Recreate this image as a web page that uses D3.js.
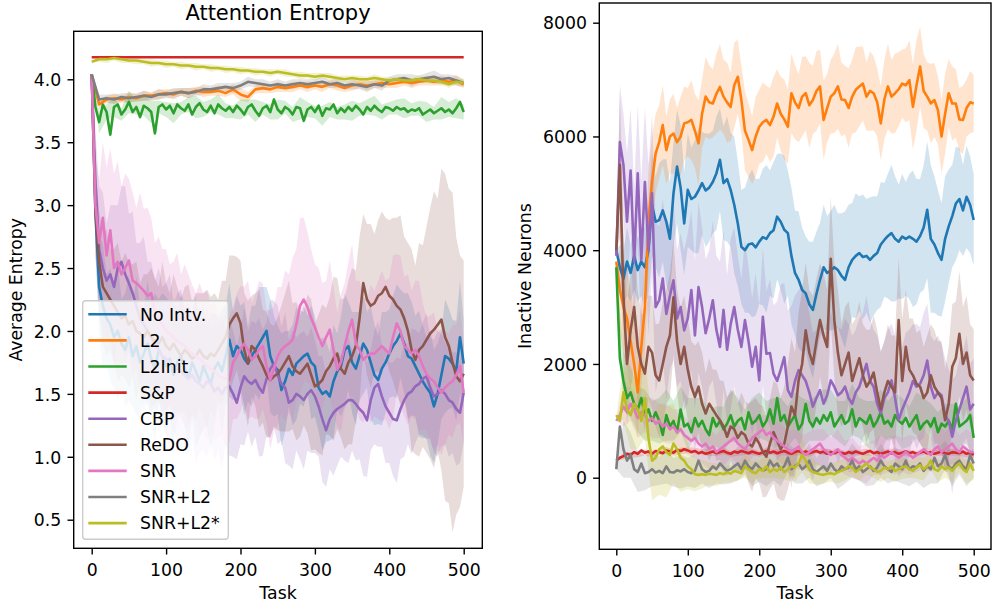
<!DOCTYPE html>
<html>
<head>
<meta charset="utf-8">
<script src="https://cdn.jsdelivr.net/npm/d3@7"></script>
<style>
body { margin: 0; background: #fff; }
text { font-family: "DejaVu Sans", sans-serif; fill: #000; }
</style>
</head>
<body>
<div id="viz"></div>
<script>

// method names and their colours (matplotlib tab10)
var methods = ['No Intv.', 'L2', 'L2Init', 'S&P', 'CBP', 'ReDO', 'SNR', 'SNR+L2', 'SNR+L2*'];
var colors = ['#1f77b4', '#ff7f0e', '#2ca02c', '#d62728', '#9467bd', '#8c564b', '#e377c2', '#7f7f7f', '#bcbd22'];

// x ticks (task number) shared by both panels
var taskTicks = [0, 100, 200, 300, 400, 500];

// ---- left panel: average attention entropy ----
// every series spans tasks 0..500, spacing = 500 / (length - 1)
var entTicks = [0.5, 1.0, 1.5, 2.0, 2.5, 3.0, 3.5, 4.0];

var entNoIntv = [4.04,2.95,2.35,2.20,2.10,2.05,1.95,2.00,1.90,1.85,
  1.95,1.80,1.88,1.75,1.82,1.90,1.78,1.70,1.85,1.80,
  1.72,1.78,1.65,1.75,1.80,1.70,1.62,1.75,1.68,1.60,
  1.72,1.65,1.58,1.70,1.75,1.68,1.80,1.93,1.80,1.88,
  1.85,1.78,1.74,1.80,1.85,1.90,1.95,2.00,1.80,1.72,
  1.69,1.53,1.60,1.70,1.65,1.74,1.77,1.80,1.82,1.75,
  1.72,1.55,1.50,1.52,1.48,1.60,1.68,1.72,1.85,1.88,
  1.75,1.70,1.80,1.90,1.85,1.75,1.65,1.61,1.70,1.75,
  1.82,1.88,1.92,1.98,1.90,1.80,1.78,1.72,1.66,1.60,
  1.55,1.51,1.40,1.50,1.65,1.80,1.78,1.74,1.68,1.95,
  1.74];
var entL2 = [4.04,3.80,3.84,3.85,3.84,3.86,3.85,3.87,3.87,3.88,
  3.89,3.88,3.90,3.89,3.91,3.90,3.90,3.91,3.89,3.92,
  3.88,3.86,3.92,3.93,3.92,3.94,3.93,3.94,3.95,3.94,
  3.95,3.94,3.96,3.95,3.93,3.95,3.96,3.95,3.96,3.97,
  3.96,3.97,3.98,3.97,3.98,3.99,3.98,3.99,3.98,3.99,
  3.96];
var entL2Init = [4.04,3.78,3.66,3.80,3.74,3.56,3.78,3.80,3.72,3.76,
  3.82,3.74,3.78,3.70,3.79,3.77,3.74,3.57,3.78,3.80,
  3.76,3.79,3.73,3.80,3.77,3.75,3.80,3.72,3.78,3.81,
  3.76,3.74,3.79,3.73,3.80,3.77,3.75,3.78,3.74,3.79,
  3.76,3.72,3.78,3.80,3.75,3.71,3.77,3.79,3.74,3.84,
  3.76,3.73,3.78,3.76,3.72,3.78,3.77,3.67,3.76,3.78,
  3.74,3.79,3.71,3.77,3.76,3.80,3.73,3.77,3.74,3.78,
  3.75,3.79,3.76,3.72,3.78,3.75,3.79,3.76,3.74,3.78,
  3.77,3.75,3.78,3.76,3.77,3.74,3.76,3.75,3.77,3.72,
  3.74,3.76,3.73,3.75,3.77,3.74,3.76,3.73,3.77,3.82,
  3.74];
var entSP = [4.175,4.175,4.175,4.175,4.175,4.175,4.175,4.175,4.175,4.175,4.175];
var entCBP = [4.04,3.20,2.65,2.50,2.40,2.45,2.35,2.50,2.55,2.45,
  2.38,2.30,2.20,2.10,2.05,2.00,1.95,1.90,1.85,1.80,
  1.78,1.75,1.72,1.70,1.68,1.65,1.62,1.65,1.60,1.58,
  1.55,1.60,1.58,1.52,1.55,1.50,1.55,1.56,1.50,1.43,
  1.55,1.64,1.60,1.58,1.61,1.55,1.51,1.62,1.70,1.74,
  1.65,1.58,1.55,1.43,1.45,1.50,1.48,1.45,1.50,1.53,
  1.48,1.40,1.30,1.21,1.30,1.35,1.38,1.40,1.42,1.45,
  1.45,1.42,1.38,1.35,1.29,1.45,1.55,1.58,1.48,1.40,
  1.35,1.30,1.29,1.38,1.45,1.50,1.52,1.56,1.58,1.62,
  1.64,1.55,1.48,1.50,1.53,1.50,1.45,1.43,1.38,1.35,
  1.51];
var entReDO = [4.04,2.95,2.55,2.35,2.30,2.25,2.20,2.15,2.10,2.12,
  2.05,2.08,2.00,1.98,1.95,2.00,1.95,1.92,1.90,1.95,
  1.88,1.85,1.90,1.85,1.80,1.85,1.82,1.78,1.80,1.85,
  1.80,1.78,1.82,1.80,1.85,1.90,1.95,2.05,2.10,2.14,
  2.06,1.85,1.74,1.88,1.85,1.78,1.72,1.65,1.61,1.64,
  1.66,1.70,1.75,1.80,1.72,1.68,1.66,1.70,1.74,1.65,
  1.56,1.58,1.61,1.68,1.72,1.78,1.82,1.70,1.66,1.75,
  1.80,1.88,2.10,2.38,2.25,2.20,2.22,2.28,2.30,2.35,
  2.28,2.25,2.20,2.17,2.10,2.00,1.85,1.77,1.85,1.88,
  1.93,1.98,2.01,2.05,2.09,1.95,1.88,1.75,1.64,1.60,
  1.66];
var entSNR = [4.04,3.00,2.70,2.90,2.60,2.80,2.50,2.55,2.45,2.50,
  2.56,2.40,2.38,2.35,2.32,2.28,2.30,2.15,2.10,2.05,
  2.00,1.98,1.95,1.92,1.90,1.88,1.85,1.82,1.80,1.78,
  1.75,1.72,1.70,1.68,1.65,1.63,1.62,1.61,1.75,1.80,
  1.86,1.90,1.85,1.77,1.80,1.85,1.88,1.72,1.61,1.70,
  1.80,1.85,1.88,1.90,1.93,2.05,2.20,2.25,2.19,2.10,
  2.03,1.95,1.88,1.95,2.01,1.85,1.69,1.75,1.88,2.00,
  2.09,1.90,1.85,1.77,1.80,1.82,1.82,1.85,1.88,1.85,
  1.82,1.95,2.06,2.00,1.88,1.85,1.82,1.85,1.80,1.72,
  1.66,1.62,1.60,1.55,1.51,1.55,1.58,1.60,1.65,1.72,
  1.51];
var entSNRL2 = [4.04,3.84,3.85,3.84,3.86,3.85,3.86,3.87,3.86,3.88,
  3.88,3.89,3.90,3.89,3.90,3.92,3.92,3.93,3.94,3.93,
  3.95,3.98,3.97,3.96,3.95,3.96,3.95,3.96,3.97,3.96,
  3.97,3.98,3.96,3.97,3.95,3.96,3.95,3.94,3.96,3.95,
  3.99,4.00,4.01,3.99,4.00,4.01,4.02,4.00,4.01,3.99,
  3.97];
var entSNRL2s = [4.14,4.16,4.16,4.17,4.16,4.15,4.15,4.14,4.13,4.13,
  4.12,4.12,4.11,4.11,4.10,4.10,4.09,4.09,4.08,4.08,
  4.07,4.07,4.06,4.06,4.05,4.06,4.05,4.04,4.03,4.03,
  4.02,4.03,4.02,4.01,4.00,4.01,4.00,4.00,4.01,4.00,
  3.99,4.00,3.99,3.99,4.00,3.99,3.99,3.98,3.96,3.98,
  3.97];

// std half-widths of the shaded bands (spacing again from length)
var entBandNoIntv = [0,0.30,0.40,0.50,0.35,0.45,0.40,0.55,0.35,0.45,
  0.50,0.40,0.55,0.45,0.35,0.50,0.45,0.60,0.40,0.50,
  0.55,0.45,0.60,0.40,0.50,0.45,0.55,0.40,0.60,0.45,
  0.50,0.40,0.55,0.45,0.35,0.50,0.40,0.45,0.35,0.40,
  0.35,0.45,0.30,0.40,0.35,0.45,0.40,0.35,0.45,0.40,
  0.35,0.45,0.40,0.30,0.40,0.45,0.35,0.40,0.30,0.45,
  0.40,0.35,0.45,0.40,0.35,0.45,0.30,0.40,0.45,0.35,
  0.40,0.45,0.35,0.40,0.30,0.45,0.40,0.35,0.45,0.40,
  0.35,0.40,0.45,0.35,0.40,0.50,0.45,0.40,0.50,0.45,
  0.40,0.50,0.45,0.40,0.35,0.45,0.40,0.35,0.40,0.45,
  0.35];
var entBandL2 = [0,0.04,0.03,0.04,0.03,0.04,0.03,0.04,0.03,0.04,
  0.03,0.04,0.03,0.04,0.03,0.04,0.03,0.04,0.03,0.04,
  0.05,0.04,0.03,0.04,0.03,0.04,0.03,0.04,0.03,0.04,
  0.03,0.04,0.03,0.04,0.03,0.04,0.03,0.04,0.03,0.04,
  0.03,0.04,0.03,0.04,0.03,0.04,0.03,0.04,0.03,0.04,
  0.03];
var entBandL2Init = [0,0.09,0.06,0.08,0.05,0.09,0.06,0.08,0.09,0.05,
  0.06,0.08,0.05,0.06,0.09,0.06,0.05,0.08,0.06,0.05,
  0.08,0.06,0.09,0.05,0.06,0.08,0.05,0.06,0.09,0.06,
  0.05,0.08,0.06,0.05,0.06,0.08,0.05,0.06,0.08,0.06,
  0.05,0.06,0.08,0.05,0.06,0.08,0.05,0.09,0.06,0.08,
  0.06];
var entBandSP = [0,0,0,0,0,0,0,0,0,0,0];
var entBandCBP = [0,0.40,0.50,0.60,0.45,0.55,0.65,0.50,0.60,0.70,
  0.55,0.65,0.50,0.60,0.70,0.55,0.60,0.50,0.65,0.55,
  0.60,0.70,0.50,0.60,0.65,0.55,0.60,0.50,0.65,0.55,
  0.50,0.60,0.45,0.55,0.50,0.60,0.45,0.55,0.50,0.45,
  0.45,0.55,0.40,0.50,0.45,0.55,0.50,0.45,0.55,0.50,
  0.55,0.45,0.60,0.50,0.55,0.45,0.50,0.55,0.45,0.50,
  0.45,0.40,0.50,0.45,0.40,0.50,0.45,0.40,0.45,0.50,
  0.40,0.45,0.40,0.50,0.45,0.40,0.45,0.50,0.40,0.45,
  0.40,0.45,0.50,0.40,0.45,0.40,0.50,0.45,0.40,0.45,
  0.50,0.40,0.45,0.50,0.45,0.40,0.45,0.40,0.45,0.40,
  0.40];
var entBandReDO = [0,0.35,0.40,0.45,0.50,0.40,0.45,0.55,0.45,0.50,
  0.50,0.45,0.55,0.40,0.50,0.45,0.55,0.50,0.45,0.60,
  0.50,0.45,0.55,0.50,0.45,0.50,0.55,0.45,0.50,0.45,
  0.50,0.55,0.45,0.50,0.40,0.50,0.45,0.55,0.50,0.45,
  0.50,0.45,0.50,0.40,0.45,0.55,0.45,0.50,0.45,0.40,
  0.45,0.50,0.55,0.60,0.50,0.55,0.50,0.45,0.55,0.60,
  0.50,0.55,0.60,0.50,0.55,0.65,0.60,0.55,0.60,0.65,
  0.70,0.60,0.65,0.55,0.60,0.65,0.55,0.60,0.65,0.55,
  0.60,0.65,0.70,0.75,0.65,0.70,0.80,0.75,0.85,0.80,
  0.90,1.00,1.10,1.00,1.20,1.30,1.25,1.35,1.10,1.00,
  0.90];
var entBandSNR = [0,0.40,0.50,0.60,0.70,0.65,0.75,0.80,0.70,0.75,
  0.65,0.70,0.60,0.75,0.65,0.70,0.60,0.55,0.65,0.60,
  0.65,0.55,0.60,0.70,0.55,0.65,0.60,0.55,0.50,0.60,
  0.55,0.60,0.50,0.55,0.50,0.45,0.55,0.50,0.45,0.50,
  0.50,0.45,0.55,0.45,0.50,0.55,0.50,0.45,0.55,0.50,
  0.55,0.50,0.60,0.55,0.65,0.60,0.70,0.65,0.60,0.55,
  0.50,0.55,0.50,0.45,0.55,0.50,0.45,0.55,0.50,0.55,
  0.60,0.50,0.55,0.50,0.45,0.55,0.50,0.55,0.60,0.55,
  0.60,0.65,0.55,0.60,0.55,0.60,0.50,0.55,0.60,0.50,
  0.45,0.50,0.55,0.45,0.50,0.45,0.40,0.45,0.40,0.45,
  0.40];
var entBandSNRL2 = [0,0.04,0.03,0.04,0.03,0.04,0.03,0.04,0.03,0.04,
  0.03,0.04,0.03,0.04,0.03,0.04,0.03,0.04,0.03,0.04,
  0.03,0.04,0.03,0.04,0.03,0.04,0.03,0.04,0.03,0.04,
  0.03,0.04,0.03,0.04,0.03,0.04,0.03,0.04,0.03,0.04,
  0.03,0.04,0.03,0.05,0.03,0.04,0.05,0.04,0.03,0.04,
  0.03];
var entBandSNRL2s = [0,0.02,0.03,0.02,0.03,0.02,0.03,0.02,0.03,0.02,
  0.03,0.02,0.03,0.02,0.03,0.02,0.03,0.02,0.03,0.02,
  0.03,0.02,0.03,0.02,0.03,0.02,0.03,0.02,0.03,0.02,
  0.03,0.02,0.03,0.02,0.03,0.02,0.03,0.02,0.03,0.02,
  0.03,0.02,0.03,0.02,0.03,0.02,0.03,0.02,0.03,0.02,
  0.03];

// ---- right panel: inactive neurons ----
var inaTicks = [0, 2000, 4000, 6000, 8000];

var inaNoIntv = [4000,3700,3500,3800,3600,3900,3650,3800,3700,4000,
  4800,4500,4530,4700,4500,4200,5000,5470,5100,4470,
  5060,4900,4940,5050,5180,5050,5100,5200,5350,5590,
  5180,5250,5060,4800,4470,4060,4000,4100,4120,4050,
  4150,4230,4200,4300,4350,4590,4500,4360,4300,3900,
  3600,3480,3300,3240,3050,2950,3230,3480,3700,3600,
  3640,3700,3650,3550,3480,3700,3830,3900,3950,3880,
  3900,3830,3900,3950,4100,4180,4250,4300,4200,4150,
  4240,4200,4240,4200,4150,4250,4400,4710,4200,4100,
  3950,3830,4200,4420,4600,4820,4900,4700,4940,4800,
  4530];
var inaL2 = [3800,3300,3000,2800,2400,2000,1500,2300,3000,4500,
  5200,5700,5900,6200,5760,6000,6050,5900,6000,6230,
  6250,6290,6100,5880,6400,6700,6600,6580,6750,6870,
  6700,6600,6520,6900,7050,6640,6100,5940,5760,6000,
  6170,6250,6290,6200,6350,6580,6400,6300,6170,6760,
  6600,6500,6700,6760,6550,6640,6800,6880,6290,6500,
  6700,6760,6880,6650,6640,6500,6700,6820,6880,6930,
  6700,6800,6760,6600,6230,6650,6880,6700,6760,6830,
  6930,6900,6990,6520,6900,7230,6800,6700,6580,6640,
  6460,6000,6400,6760,6580,6580,6300,6290,6500,6600,
  6580];
var inaL2Init = [3700,2100,1700,1400,1500,1300,1200,1400,1100,1200,
  1000,1150,1000,750,1100,900,1000,800,1200,900,
  950,800,1050,900,1000,850,750,1050,900,1000,
  850,950,1100,900,1000,1050,850,1150,950,1000,
  1100,900,1000,1200,950,1400,1000,1100,900,1000,
  1100,850,950,1300,1000,900,1050,950,1100,1000,
  1150,900,1000,1100,950,1000,1200,900,1050,1000,
  950,1100,900,1000,1150,950,1000,900,1100,1000,
  950,1050,900,1000,1100,850,950,1000,900,1050,
  800,950,900,1000,850,1300,900,950,1000,1100,
  700];
var inaSP = [300,350,380,420,400,450,420,480,440,460,
  420,470,450,430,480,460,440,490,470,500,
  480,450,470,430,450,420,440,460,430,450,
  470,440,420,460,440,470,450,430,460,440,
  420,450,470,440,460,430,450,470,440,420,
  450,470,440,460,430,450,470,440,460,420,
  450,430,460,440,420,450,430,460,440,420,
  450,470,430,450,420,440,460,430,450,420,
  440,460,430,450,420,440,460,430,450,420,
  440,460,430,420,450,440,430,460,420,440,
  400];
var inaCBP = [3900,5900,5500,4500,5400,3800,5350,3830,5200,4000,
  5000,3000,3120,3500,2880,3200,3470,2800,3000,2590,
  2800,3300,2500,3350,3000,2540,2800,3120,2600,2300,
  2950,2250,2700,3000,2600,2300,2770,2400,1950,2300,
  1710,2830,2180,2190,1830,1700,1900,2120,1540,1420,
  1700,1890,1800,1700,1500,1250,1400,1540,1300,1450,
  1710,1600,1450,1500,1600,1400,1300,1500,1600,1800,
  2000,1700,1600,1300,1130,1400,1500,1710,1400,1010,
  1200,1350,1500,1700,1600,1650,1800,2060,1600,1400,
  1500,1450,1100,1000,720,1000,1200,1400,1600,1200,
  1300];
var inaReDO = [4000,5500,3200,2000,2590,3000,2300,2000,1830,2300,
  2200,1800,1710,2000,2300,2500,3170,2400,2000,2300,
  1900,1600,1420,1600,1300,1130,1300,1200,1100,1010,
  900,720,900,850,700,800,750,600,550,700,
  600,450,370,600,800,650,500,600,900,1250,
  1100,1710,2000,2590,2200,2000,2400,2770,2500,2300,
  3850,2770,2200,1800,2000,2200,1700,1900,2100,1800,
  1600,1700,1850,1500,1200,1500,1700,1600,1500,2770,
  1700,2300,1900,1800,1650,1600,1400,1500,1800,1600,
  1500,1400,1010,1300,1950,2100,2530,2000,2200,1800,
  1710];
var inaSNR = [1000,1100,1250,1150,1300,1200,1050,1150,1100,1000,
  1050,950,1000,900,950,850,900,800,850,750,
  700,650,700,600,550,600,500,550,450,500,
  550,600,650,700,600,550,500,600,700,750,
  800,850,750,800,700,650,600,550,500,450,
  500,550,450,400,450,500,550,600,500,450,
  400,450,500,400,350,300,350,300,250,300,
  250,300,350,300,400,350,400,450,400,350,
  400,450,400,350,400,450,500,450,400,500,
  550,450,500,550,600,500,450,550,500,450,
  450];
var inaSNRL2 = [150,900,500,300,400,150,100,250,80,100,
  150,90,120,80,200,100,90,130,110,150,
  100,80,120,300,150,100,120,200,150,250,
  180,120,150,200,250,150,300,200,150,250,
  180,120,150,300,200,250,150,200,350,150,
  200,250,150,200,300,150,100,150,200,120,
  250,150,100,200,150,180,300,150,200,100,
  150,200,120,180,300,200,150,100,250,200,
  150,300,150,200,180,250,120,200,150,350,
  200,250,400,200,150,250,300,200,150,400,
  250];
var inaSNRL2s = [1100,1000,1500,1200,1100,1300,1200,1000,1400,700,
  300,350,500,550,450,400,600,500,350,300,
  200,150,60,50,60,50,70,60,50,80,
  60,90,70,120,100,80,200,150,100,80,
  150,120,200,100,150,120,180,100,150,200,
  180,250,400,300,150,100,80,60,50,70,
  80,60,100,120,150,200,180,100,150,200,
  250,180,150,100,120,180,150,200,120,150,
  180,200,150,120,180,220,150,200,300,150,
  120,200,150,180,120,200,250,150,100,250,
  120];

var inaBandNoIntv = [0,400,500,600,500,600,550,600,700,800,
  900,800,1000,900,1100,1000,900,1000,1100,900,
  1000,900,1000,1100,900,1000,950,900,1000,900,
  1000,1100,1000,1200,1100,1000,1100,1200,1300,1200,
  1100,1200,1300,1100,1200,1100,1200,1300,1100,1200,
  1100,1200,1100,1000,1100,1200,1100,1000,1100,1000,
  1050,1100,1000,1100,1200,1100,1000,1100,1000,1100,
  1000,1100,1050,1000,1100,1000,1100,1200,1100,1000,
  1100,1000,1100,1200,1100,1000,1100,1200,1300,1200,
  1100,1000,1100,1000,900,1000,900,800,900,850,
  800];
var inaBandL2 = [0,700,800,900,850,900,800,700,800,900,
  800,700,650,700,600,650,700,600,700,650,
  600,700,650,750,600,700,650,600,700,750,
  650,700,600,750,650,600,700,650,600,700,
  650,700,600,650,700,600,650,700,650,700,
  650,600,700,650,750,600,700,650,700,600,
  650,700,750,650,600,700,650,750,700,650,
  600,700,650,600,650,700,750,650,700,650,
  600,650,700,750,800,700,650,600,700,650,
  600,650,700,600,650,600,550,600,500,550,
  500];
var inaBandL2Init = [0,500,450,400,450,350,400,450,350,400,
  450,350,400,450,350,400,450,400,350,450,
  400,350,450,400,350,400,450,350,400,450,
  400,350,400,450,350,400,450,400,350,400,
  450,350,400,450,400,350,400,450,350,400,
  350];
var inaBandSP = [0,60,50,60,50,60,50,60,50,60,
  50,60,50,60,50,60,50,60,50,60,
  50,60,50,60,50,60,50,60,50,60,
  50,60,50,60,50,60,50,60,50,60,
  50,60,50,60,50,60,50,60,50,60,
  50];
var inaBandCBP = [0,1000,900,1200,1100,1300,1200,1400,1300,1500,
  1400,1500,1300,1400,1500,1300,1400,1200,1300,1400,
  1500,1400,1300,1500,1400,1300,1200,1400,1300,1500,
  1400,1300,1500,1400,1300,1200,1400,1300,1200,1300,
  1300,1200,1100,1300,1200,1400,1500,1300,1400,1600,
  1500,1400,1600,1500,1400,1300,1200,1300,1200,1300,
  1200,1100,1200,1100,1200,1300,1200,1100,1200,1100,
  1200,1100,1000,1200,1100,1000,1100,1000,1100,1000,
  1100,1200,1100,1000,1100,1000,1100,1000,900,1000,
  1000,900,1000,900,1000,800,900,800,900,800,
  800];
var inaBandReDO = [0,1300,1200,1100,1000,1100,1000,900,1000,900,
  1000,900,1000,1100,1000,1100,1000,900,1000,900,
  900,800,900,800,900,700,800,700,800,700,
  800,700,600,700,600,700,600,700,800,700,
  700,800,700,800,900,1000,900,1000,1100,1200,
  1100,1200,1300,1200,1100,1200,1100,1000,1100,1000,
  1100,1000,1100,900,1000,900,1000,900,1000,900,
  1000,900,1000,1100,1000,900,1000,900,1000,1100,
  1100,1000,900,1000,900,1000,900,1000,900,1000,
  900,1000,900,1000,1100,1000,1100,1000,1000,900,
  900];
var inaBandSNR = [0,350,300,350,300,350,300,350,300,350,
  300,350,300,350,300,350,300,350,300,350,
  300,350,300,350,300,350,300,350,300,350,
  300,350,300,350,300,350,300,350,300,350,
  300,350,300,350,300,350,300,350,300,350,
  300];
var inaBandSNRL2 = [0,500,400,350,300,300,250,300,250,300,
  250,300,250,300,250,300,250,300,250,300,
  250,300,250,300,250,300,250,300,250,300,
  250,300,250,300,250,300,250,300,250,300,
  250,300,250,300,250,300,250,300,250,300,
  250];
var inaBandSNRL2s = [0,500,600,700,700,700,800,800,700,600,
  400,300,250,200,200,150,150,150,200,200,
  150,200,150,200,200,250,300,250,200,150,
  150,200,200,150,200,200,150,200,150,200,
  200,150,200,200,150,200,150,200,150,200,
  150];

var entSeries = [entNoIntv, entL2, entL2Init, entSP, entCBP, entReDO, entSNR, entSNRL2, entSNRL2s];
var entBands = [entBandNoIntv, entBandL2, entBandL2Init, entBandSP, entBandCBP, entBandReDO, entBandSNR, entBandSNRL2, entBandSNRL2s];
var inaSeries = [inaNoIntv, inaL2, inaL2Init, inaSP, inaCBP, inaReDO, inaSNR, inaSNRL2, inaSNRL2s];
var inaBands = [inaBandNoIntv, inaBandL2, inaBandL2Init, inaBandSP, inaBandCBP, inaBandReDO, inaBandSNR, inaBandSNRL2, inaBandSNRL2s];

// figure-wide sizes (px)
var fontSize = 17.3;
var lineWidth = 2.6;
var spineWidth = 1.4;
var tickLen = 6.2;

var svg = d3.select('#viz').append('svg')
  .attr('width', 993)
  .attr('height', 605);

svg.append('rect')
  .attr('width', 993)
  .attr('height', 605)
  .attr('fill', '#fff');

// draws one subplot: bands underneath, then lines, frame and axes
function drawPanel(id, box, x, y, yTicks, yFormat, series, bands, ylabel, ylabelX) {
  var panel = svg.append('g').attr('id', id);

  panel.append('clipPath')
    .attr('id', id + '-clip')
    .append('rect')
    .attr('x', box.x0)
    .attr('y', box.y0)
    .attr('width', box.x1 - box.x0)
    .attr('height', box.y1 - box.y0);

  var plot = panel.append('g').attr('clip-path', 'url(#' + id + '-clip)');

  // shaded std bands (all below the lines, like matplotlib's zorder)
  series.forEach(function(s, k) {
    var step = 500 / (s.length - 1);
    var band = bands[k];
    var bstep = 500 / (band.length - 1);
    var area = d3.area()
      .x(function(d, i) { return x(i * bstep); })
      .y0(function(d, i) { return y(s[Math.round(i * bstep / step)] - d); })
      .y1(function(d, i) { return y(s[Math.round(i * bstep / step)] + d); });
    plot.append('path')
      .datum(band)
      .attr('d', area)
      .attr('fill', colors[k])
      .attr('fill-opacity', 0.2)
      .attr('stroke', 'none');
  });

  // mean lines
  series.forEach(function(s, k) {
    var step = 500 / (s.length - 1);
    var line = d3.line()
      .x(function(d, i) { return x(i * step); })
      .y(function(d) { return y(d); });
    plot.append('path')
      .datum(s)
      .attr('d', line)
      .attr('fill', 'none')
      .attr('stroke', colors[k])
      .attr('stroke-width', lineWidth)
      .attr('stroke-linejoin', 'round');
  });

  // x axis
  var xAxis = panel.append('g')
    .attr('transform', 'translate(0,' + box.y1 + ')')
    .call(d3.axisBottom(x).tickValues(taskTicks).tickSize(tickLen).tickPadding(9));
  // y axis
  var yAxis = panel.append('g')
    .attr('transform', 'translate(' + box.x0 + ',0)')
    .call(d3.axisLeft(y).tickValues(yTicks).tickFormat(yFormat).tickSize(tickLen).tickPadding(6.2));

  [xAxis, yAxis].forEach(function(a) {
    a.select('.domain').remove();
    a.attr('font-size', fontSize).attr('font-family', '"DejaVu Sans", sans-serif');
    a.selectAll('line').attr('stroke', '#000').attr('stroke-width', spineWidth);
    a.selectAll('text').attr('fill', '#000');
  });
  yAxis.selectAll('text').attr('dy', '0.36em');

  // frame
  panel.append('rect')
    .attr('x', box.x0)
    .attr('y', box.y0)
    .attr('width', box.x1 - box.x0)
    .attr('height', box.y1 - box.y0)
    .attr('fill', 'none')
    .attr('stroke', '#000')
    .attr('stroke-width', spineWidth);

  // axis labels
  panel.append('text')
    .attr('x', (box.x0 + box.x1) / 2)
    .attr('y', 599)
    .attr('text-anchor', 'middle')
    .attr('font-size', fontSize)
    .text('Task');

  panel.append('text')
    .attr('transform', 'translate(' + ylabelX + ',' + ((box.y0 + box.y1) / 2) + ') rotate(-90)')
    .attr('text-anchor', 'middle')
    .attr('font-size', fontSize)
    .text(ylabel);

  return panel;
}

// left panel
var leftBox = {x0: 73.7, x1: 482.3, y0: 31.3, y1: 548.3};
var xLeft = d3.scaleLinear().domain([0, 500]).range([91.7, 463.7]);
var yLeft = d3.scaleLinear().domain([0.5, 4.0]).range([519.7, 79.3]);
var left = drawPanel('left', leftBox, xLeft, yLeft, entTicks, d3.format('.1f'),
  entSeries, entBands, 'Average Entropy', 22);

left.append('text')
  .attr('x', (leftBox.x0 + leftBox.x1) / 2)
  .attr('y', 20.3)
  .attr('text-anchor', 'middle')
  .attr('font-size', 21)
  .text('Attention Entropy');

// legend, lower left of the left panel
var legend = left.append('g').attr('transform', 'translate(82.7,300.7)');
legend.append('rect')
  .attr('width', 145.6)
  .attr('height', 238.6)
  .attr('rx', 3)
  .attr('fill', '#fff')
  .attr('fill-opacity', 0.8)
  .attr('stroke', '#cccccc')
  .attr('stroke-width', 1.4);

methods.forEach(function(m, i) {
  var ry = 13.6 + i * 26.1;
  legend.append('line')
    .attr('x1', 5.6)
    .attr('x2', 44)
    .attr('y1', ry)
    .attr('y2', ry)
    .attr('stroke', colors[i])
    .attr('stroke-width', lineWidth);
  legend.append('text')
    .attr('x', 57.3)
    .attr('y', ry)
    .attr('dy', '0.36em')
    .attr('font-size', fontSize)
    .text(m);
});

// right panel
var rightBox = {x0: 599.3, x1: 991, y0: 3, y1: 549.3};
var xRight = d3.scaleLinear().domain([0, 500]).range([616.3, 973.7]);
var yRight = d3.scaleLinear().domain([0, 8000]).range([477.7, 22.7]);
drawPanel('right', rightBox, xRight, yRight, inaTicks, d3.format('d'),
  inaSeries, inaBands, 'Inactive Neurons', 531);

</script>
</body>
</html>
